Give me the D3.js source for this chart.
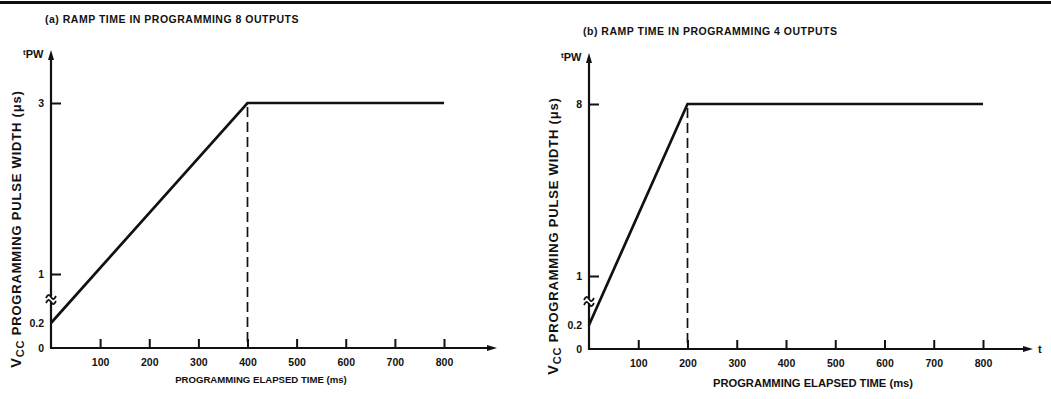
<!DOCTYPE html>
<html>
<head>
<meta charset="utf-8">
<script src="https://cdn.jsdelivr.net/npm/d3@7"></script>
<style>
  body { margin: 0; background: #fff; }
  text { font-family: "Liberation Sans", Arial, sans-serif; font-weight: bold; fill: #111; }
</style>
</head>
<body>
<div id="chart"></div>
<script>
// data
var xTicks = [100, 200, 300, 400, 500, 600, 700, 800];
var yTicksA = [0, 0.2, 1, 3];
var yTicksB = [0, 0.2, 1, 8];
var rampA = [[0, 0.2], [400, 3], [800, 3]];
var rampB = [[0, 0.2], [200, 8], [800, 8]];
var knee = [400, 200];
var titles = ["(a)  RAMP TIME IN PROGRAMMING 8 OUTPUTS", "(b)  RAMP TIME IN PROGRAMMING 4 OUTPUTS"];
var xTitle = "PROGRAMMING ELAPSED TIME (ms)";

var W = 1051, H = 399;

var svg = d3.select("#chart")
  .append("svg")
    .attr("width", W)
    .attr("height", H);

// heavy rule along the top
svg.append("rect")
  .attr("x", 0).attr("y", 1)
  .attr("width", W).attr("height", 3)
  .attr("fill", "#111");

var panels = [
  {ticksY: yTicksA, ramp: rampA, knee: knee[0], title: titles[0],
   x0: 51, x800: 444, xEnd: 497, yTop: 50, yRange: [348, 323, 274, 103],
   titleX: 45, titleY: 23, ylabX: 21, ylabY: 229, xlabX: 261, xlabY: 383, xlabSize: 9.6, tEnd: false},
  {ticksY: yTicksB, ramp: rampB, knee: knee[1], title: titles[1],
   x0: 589, x800: 983, xEnd: 1033, yTop: 53, yRange: [349, 325, 276, 104],
   titleX: 583, titleY: 35, ylabX: 558, ylabY: 236, xlabX: 813, xlabY: 387, xlabSize: 11.2, tEnd: true}
];

panels.forEach(function(p) {
  var g = svg.append("g");

  var x = d3.scaleLinear().domain([0, 800]).range([p.x0, p.x800]);
  // broken axis: 0..0.2 and 0.2..1 are squeezed
  var y = d3.scaleLinear().domain(p.ticksY).range(p.yRange);
  var y0 = y(0);

  // axes lines
  g.append("line")
    .attr("x1", p.x0 - 1).attr("x2", p.xEnd - 6)
    .attr("y1", y0).attr("y2", y0)
    .attr("stroke", "#111").attr("stroke-width", 2.2);
  g.append("path")
    .attr("d", "M" + p.xEnd + "," + y0 + "l-10,-3l0,6z")
    .attr("fill", "#111");
  g.append("line")
    .attr("x1", p.x0).attr("x2", p.x0)
    .attr("y1", y0 + 1).attr("y2", p.yTop + 6)
    .attr("stroke", "#111").attr("stroke-width", 2.2);
  g.append("path")
    .attr("d", "M" + p.x0 + "," + p.yTop + "l-3,10l6,0z")
    .attr("fill", "#111");

  // x ticks point up
  var xAxis = g.append("g")
    .attr("transform", "translate(0," + y0 + ")")
    .call(d3.axisBottom(x).tickValues(xTicks).tickSize(-9).tickPadding(11));
  xAxis.select(".domain").remove();
  xAxis.selectAll(".tick line").attr("stroke", "#111").attr("stroke-width", 2);
  xAxis.selectAll("text").style("font-size", "10.5px");

  // y ticks point right
  var yAxis = g.append("g")
    .attr("transform", "translate(" + p.x0 + ",0)")
    .call(d3.axisLeft(y).tickValues(p.ticksY).tickSize(-10).tickPadding(7)
      .tickFormat(function(d) { return String(d); }));
  yAxis.select(".domain").remove();
  yAxis.selectAll(".tick line")
    .attr("stroke", "#111").attr("stroke-width", 2)
    .attr("display", function(d) { return (d === 0 || d === 0.2) ? "none" : null; });
  yAxis.selectAll("text").style("font-size", "10.5px");

  // axis break mark: two little waves across the axis
  var yb = (y(0.2) + y(1)) / 2 + 1;
  g.append("rect")
    .attr("x", p.x0 - 2).attr("y", yb - 3)
    .attr("width", 4).attr("height", 5)
    .attr("fill", "#fff");
  [-2.5, 2.5].forEach(function(dy) {
    g.append("path")
      .attr("d", "M" + (p.x0 - 5) + "," + (yb + dy + 1) +
        "c2,-4 3,-4 5,-1s3,3 5,-1")
      .attr("fill", "none")
      .attr("stroke", "#111")
      .attr("stroke-width", 1.8);
  });

  // ramp
  var line = d3.line()
    .x(function(d) { return x(d[0]); })
    .y(function(d) { return y(d[1]); });
  g.append("path")
    .datum(p.ramp)
    .attr("d", line)
    .attr("fill", "none")
    .attr("stroke", "#111")
    .attr("stroke-width", 2.7)
    .attr("stroke-linejoin", "miter");

  // dashed drop line at the knee
  var top = p.ramp[1][1];
  g.append("line")
    .attr("x1", x(p.knee)).attr("x2", x(p.knee))
    .attr("y1", y(top) + 4).attr("y2", y0 - 1)
    .attr("stroke", "#111").attr("stroke-width", 1.7)
    .attr("stroke-dasharray", "10,5");

  // labels
  g.append("text")
    .attr("x", p.titleX).attr("y", p.titleY)
    .style("font-size", "10.5px")
    .style("letter-spacing", "0.5px")
    .text(p.title);

  var tpw = g.append("text")
    .attr("x", p.x0 - 28).attr("y", p.yTop + 8)
    .style("font-size", "11px");
  tpw.append("tspan").style("font-size", "8px").attr("dy", -3).text("t");
  tpw.append("tspan").attr("dy", 3).text("PW");

  var yl = g.append("text")
    .attr("transform", "translate(" + p.ylabX + "," + p.ylabY + ") rotate(-90)")
    .attr("text-anchor", "middle")
    .style("font-size", "13px")
    .style("letter-spacing", "0.8px");
  yl.append("tspan").style("font-size", "14.5px").text("V");
  yl.append("tspan").attr("dy", 3).style("font-size", "11px").text("CC");
  yl.append("tspan").attr("dy", -3).text(" PROGRAMMING PULSE WIDTH (\u03bcs)");

  g.append("text")
    .attr("x", p.xlabX).attr("y", p.xlabY)
    .attr("text-anchor", "middle")
    .style("font-size", p.xlabSize + "px")
    .text(xTitle);

  if (p.tEnd) {
    g.append("text")
      .attr("x", p.xEnd + 5).attr("y", y0 + 4)
      .style("font-size", "11px")
      .text("t");
  }
});
</script>
</body>
</html>
